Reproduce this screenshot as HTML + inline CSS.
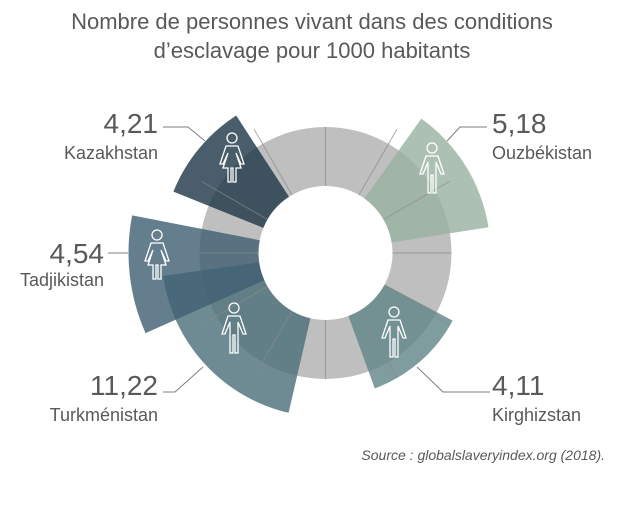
<!DOCTYPE html>
<html><head><meta charset="utf-8"><style>
body{margin:0;background:#fff;width:621px;height:500px;overflow:hidden;font-family:"Liberation Sans",sans-serif}
</style></head><body>
<svg id="s" width="621" height="500" xmlns="http://www.w3.org/2000/svg" font-family="Liberation Sans, sans-serif">
<text x="312" y="29" text-anchor="middle" font-size="22" fill="#595959">Nombre de personnes vivant dans des conditions</text>
<text x="312" y="58" text-anchor="middle" font-size="22" fill="#595959">d’esclavage pour 1000 habitants</text>
<g id="g"></g>
<g fill="#595959">
<text x="158" y="133" text-anchor="end" font-size="28">4,21</text>
<text x="158" y="159" text-anchor="end" font-size="18">Kazakhstan</text>
<text x="492" y="133" font-size="28">5,18</text>
<text x="492" y="159" font-size="18">Ouzbékistan</text>
<text x="104" y="263" text-anchor="end" font-size="28">4,54</text>
<text x="104" y="286" text-anchor="end" font-size="18">Tadjikistan</text>
<text x="158" y="395" text-anchor="end" font-size="28">11,22</text>
<text x="158" y="421" text-anchor="end" font-size="18">Turkménistan</text>
<text x="492" y="395" font-size="28">4,11</text>
<text x="492" y="421" font-size="18">Kirghizstan</text>
</g>
<g stroke="#7f7f7f" stroke-width="1" fill="none">
<polyline points="163,127 188,127 205,141"/>
<polyline points="487,127 460,127 447,141"/>
<polyline points="490,392 443,392 417,367"/>
<polyline points="163,392 175,392 203,367"/>
<polyline points="108,253 128,253"/>
</g>
<text x="605" y="460" text-anchor="end" font-size="14" font-style="italic" fill="#595959">Source : globalslaveryindex.org (2018).</text>
</svg>
<script>
var cx=325.5,cy=253,ri=67,ro=126,g=document.getElementById('g'),ns='http://www.w3.org/2000/svg';
function P(a,r){a=a*Math.PI/180;return [cx+r*Math.sin(a),cy-r*Math.cos(a)];}
function sec(a1,a2,r1,r2){var p1=P(a1,r2),p2=P(a2,r2),p3=P(a2,r1),p4=P(a1,r1),l=(a2-a1)>180?1:0;
return 'M'+p1+' A'+r2+' '+r2+' 0 '+l+' 1 '+p2+' L'+p3+' A'+r1+' '+r1+' 0 '+l+' 0 '+p4+'Z';}
function add(tag,at){var e=document.createElementNS(ns,tag);for(var k in at)e.setAttribute(k,at[k]);g.appendChild(e);return e;}
add('path',{d:sec(0,359.99,ri,ro),fill:'#bfbfbf'});
var S=[[35.5,81,165,'rgb(154,177,162)'],[118,160,144,'rgb(97,133,135)'],[193,262,164,'rgb(76,112,122)'],[246,281,197,'rgb(64,96,116)'],[292,327,164,'rgb(31,55,71)']];
S.forEach(function(s){add('path',{d:sec(s[0],s[1],ri,s[2]),fill:s[3],'fill-opacity':0.81});});
for(var a=0;a<360;a+=30){var p=P(a,ri),q=P(a,a%90==0?ro:143);add('line',{x1:p[0],y1:p[1],x2:q[0],y2:q[1],stroke:'#8a8a8a','stroke-opacity':0.7,'stroke-width':1});}
function man(x,y){var d='M'+(x)+','+(y-25)+' m-5,0 a5,5 0 1,0 10,0 a5,5 0 1,0 -10,0 M'+(x-6)+','+(y-17)+' h12 l6,18 h-3 l-5,-12 v31 h-3 v-18 h-2 v18 h-3 v-31 l-5,12 h-3 z';
add('path',{d:d,fill:'none',stroke:'#fff','stroke-width':1.3});}
function woman(x,y){var d='M'+(x)+','+(y-25)+' m-5,0 a5,5 0 1,0 10,0 a5,5 0 1,0 -10,0 M'+(x-6)+','+(y-17)+' h12 l6,18 h-3 l-5,-11 l5,15 h-5 v14 h-3 v-14 h-2 v14 h-3 v-14 h-5 l5,-15 l-5,11 h-3 z';
add('path',{d:d,fill:'none',stroke:'#fff','stroke-width':1.3});}
woman(232,163);man(432,173);woman(157,260);man(234,333);man(394,337);
</script>
</body></html>
